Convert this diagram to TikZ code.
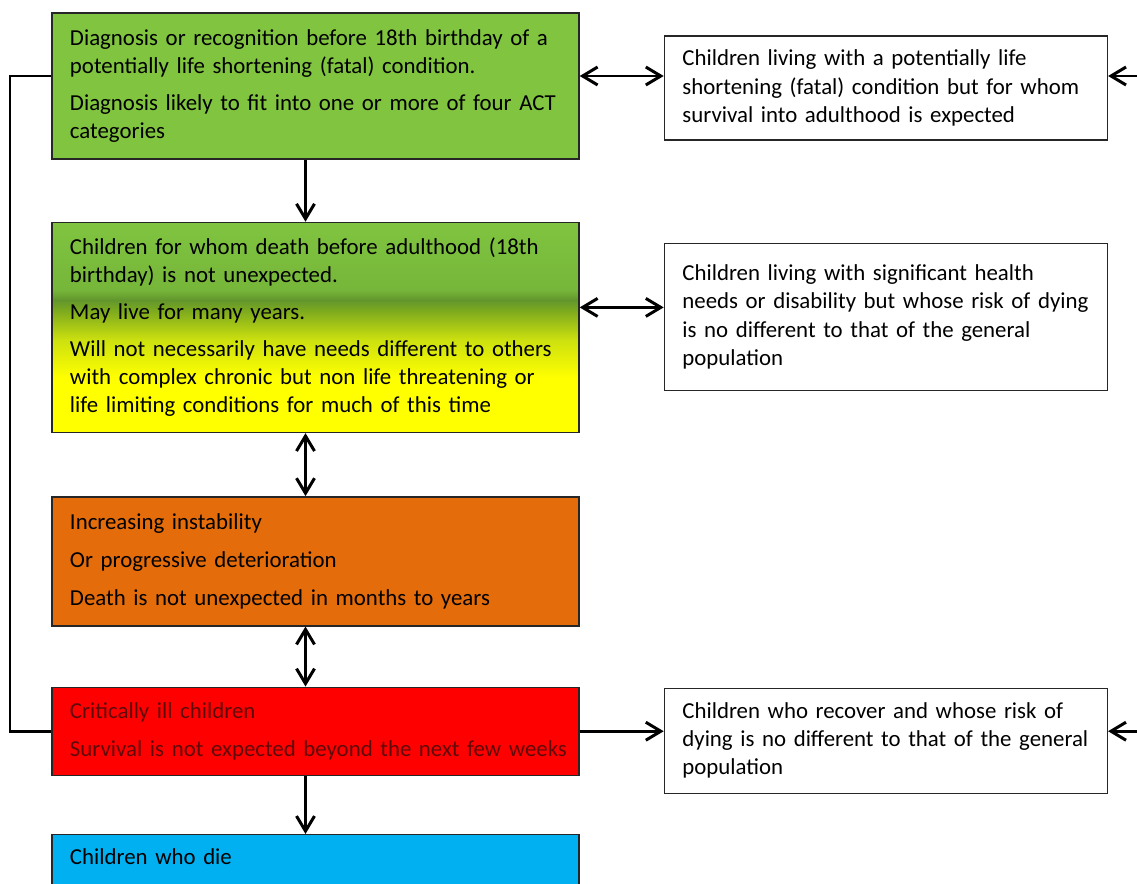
\documentclass[tikz,border=0pt]{standalone}
\usepackage{fontspec}
\setmainfont{Carlito}
\usepackage{xcolor}
\definecolor{actgreen}{RGB}{128,196,64}
\definecolor{actgreenb}{RGB}{118,182,58}
\definecolor{actband}{RGB}{98,150,45}
\definecolor{actolive}{RGB}{125,170,30}
\definecolor{actlime}{RGB}{205,225,15}
\definecolor{actyellow}{RGB}{255,255,0}
\definecolor{actorange}{RGB}{228,108,10}
\definecolor{actred}{RGB}{255,0,0}
\definecolor{actdarkred}{RGB}{95,10,10}
\definecolor{actblue}{RGB}{0,176,240}
\usepackage{tikz}
\usetikzlibrary{arrows.meta,positioning}
\pgfdeclareverticalshading{stableshade}{100bp}{color(0bp)=(actyellow); color(25bp)=(actyellow); color(38bp)=(actyellow); color(47bp)=(actlime); color(54bp)=(actolive); color(56.5bp)=(actband); color(59bp)=(actgreenb); color(75bp)=(actgreen); color(100bp)=(actgreen)}

\begin{document}
\begin{tikzpicture}[
  stage/.style={draw=black!85, line width=0.8pt, text width=9.82cm, inner xsep=0.36cm, align=left, font=\fontsize{13}{16}\selectfont},
  outcome/.style={draw=black!85, line width=0.8pt, fill=white, text width=8.14cm, inner xsep=0.36cm, align=left, font=\fontsize{13}{16}\selectfont},
  oneway/.style={-{Straight Barb[length=3mm,width=3.6mm]}, line width=1.7pt},
  twoway/.style={{Straight Barb[length=3mm,width=3.6mm]}-{Straight Barb[length=3mm,width=3.6mm]}, line width=1.7pt},
  railline/.style={line width=1.7pt}]
  \useasboundingbox (0,0) rectangle (22.74,-17.66);
  \clip (0,0) rectangle (22.74,-17.66);
  \node[stage, fill=actgreen, minimum height=2.92cm] (fatal) at (6.31,-1.72) {Diagnosis or recognition before 18th birthday of a\\potentially life shortening (fatal) condition.\\[5pt]Diagnosis likely to fit into one or more of four ACT\\categories};
  \node[stage, shading=stableshade, minimum height=4.2cm, below=1.24cm of fatal] (stable) {Children for whom death before adulthood (18th\\birthday) is not unexpected.\\[5pt]May live for many years.\\[5pt]Will not necessarily have needs different to others\\with complex chronic but non life threatening or\\life limiting conditions for much of this time};
  \node[stage, fill=actorange, minimum height=2.58cm, below=1.26cm of stable] (unstable) {Increasing instability\\[5.6pt]Or progressive deterioration\\[5.6pt]Death is not unexpected in months to years};
  \node[stage, fill=actred, text=actdarkred, minimum height=1.76cm, below=1.2cm of unstable] (critical) {Critically ill children\\[5.6pt]\mbox{Survival is not expected beyond the next few weeks}};
  \node[stage, fill=actblue, text height=10pt, text depth=1.6cm, inner ysep=7pt, below=1.16cm of critical] (died) {Children who die};
  \node[outcome, minimum height=2.08cm, right=1.68cm of fatal, yshift=-0.04cm] (survive) {Children living with a potentially life\\shortening (fatal) condition but for whom\\survival into adulthood is expected};
  \node[outcome, minimum height=2.94cm, right=1.68cm of stable, yshift=0.21cm] (disabled) {Children living with significant health\\needs or disability but whose risk of dying\\is no different to that of the general\\population};
  \node[outcome, minimum height=2.1cm, right=1.68cm of critical, yshift=-0.19cm] (recover) {Children who recover and whose risk of\\dying is no different to that of the general\\population};
  \coordinate (rail) at (0.2,0);
  \coordinate (edge) at (23.4,0);
  \coordinate (fatalport) at ([yshift=0.2cm]fatal.east);
  \coordinate (stableport) at ([yshift=0.4cm]stable.east);
  \draw[oneway] ([xshift=-0.2cm]fatal.south) -- ([xshift=-0.2cm]stable.north);
  \draw[twoway] ([xshift=-0.2cm]stable.south) -- ([xshift=-0.2cm]unstable.north);
  \draw[twoway] ([xshift=-0.2cm]unstable.south) -- ([xshift=-0.2cm]critical.north);
  \draw[oneway] ([xshift=-0.2cm]critical.south) -- ([xshift=-0.2cm]died.north);
  \draw[twoway] (fatalport) -- (fatalport -| survive.west);
  \draw[oneway] (fatalport -| edge) -- (fatalport -| survive.east);
  \draw[twoway] (stableport) -- (stableport -| disabled.west);
  \draw[oneway] (critical.east) -- (critical.east -| recover.west);
  \draw[oneway] (critical.east -| edge) -- (critical.east -| recover.east);
  \draw[railline] ([yshift=0.2cm]fatal.west) -| (rail |- critical.west) -- (critical.west);
\end{tikzpicture}
\end{document}
